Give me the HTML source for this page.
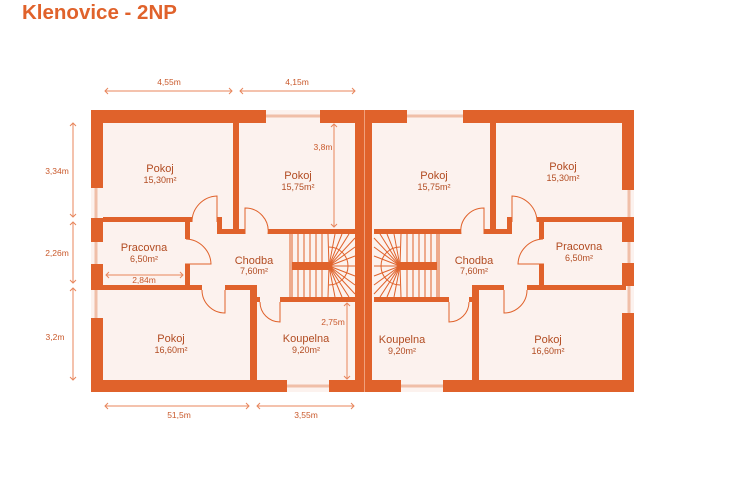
<!DOCTYPE html>
<html><head><meta charset="utf-8"><style>
body{margin:0;background:#fff;width:740px;height:493px;overflow:hidden}
svg{display:block}
text{font-family:"Liberation Sans",sans-serif}
.n{font-size:11px;fill:#b24c22;text-anchor:middle}
.a{font-size:9px;fill:#b24c22;text-anchor:middle}
.d{font-size:8.5px;fill:#c9592b;text-anchor:middle}
</style></head><body>
<svg width="740" height="493" viewBox="0 0 740 493">
<defs>
<g id="stairs" stroke="#e0622b" stroke-width="1" fill="none">
 <line x1="292" y1="234" x2="292" y2="297"/><line x1="298" y1="234" x2="298" y2="297"/>
 <line x1="304" y1="234" x2="304" y2="297"/><line x1="310" y1="234" x2="310" y2="297"/>
 <line x1="316" y1="234" x2="316" y2="297"/><line x1="322" y1="234" x2="322" y2="297"/>
 <path d="M329 247 A19 19 0 0 1 329 285"/>
 <line x1="329" y1="266" x2="328" y2="234"/><line x1="329" y1="266" x2="335" y2="234"/>
 <line x1="329" y1="266" x2="342" y2="234"/><line x1="329" y1="266" x2="349" y2="234"/>
 <line x1="329" y1="266" x2="355" y2="238"/><line x1="329" y1="266" x2="355" y2="247"/>
 <line x1="329" y1="266" x2="355" y2="256"/><line x1="329" y1="266" x2="355" y2="266"/>
 <line x1="329" y1="266" x2="355" y2="276"/><line x1="329" y1="266" x2="355" y2="285"/>
 <line x1="329" y1="266" x2="355" y2="294"/><line x1="329" y1="266" x2="349" y2="297"/>
 <line x1="329" y1="266" x2="342" y2="297"/><line x1="329" y1="266" x2="335" y2="297"/>
 <line x1="329" y1="266" x2="328" y2="297"/>
 <rect x="292" y="262" width="37" height="8" fill="#e0622b" stroke="none"/>
</g>
<g id="inner">
 <g fill="#e0622b">
  <rect x="103" y="217" width="89" height="5"/>
  <rect x="217" y="217" width="5" height="17"/>
  <rect x="217" y="229" width="22" height="5"/>
  <rect x="233" y="123" width="6" height="111"/>
  <rect x="239" y="229" width="6" height="5"/>
  <rect x="268" y="229" width="87" height="5"/>
  <rect x="185" y="217" width="5" height="22"/>
  <rect x="185" y="264" width="5" height="26"/>
  <rect x="103" y="285" width="99" height="5"/>
  <rect x="225" y="285" width="32" height="5"/>
  <rect x="250" y="285" width="7" height="107"/>
  <rect x="256" y="297" width="4" height="5"/>
  <rect x="280" y="297" width="75" height="5"/>
 </g>
 <g stroke="#e0622b" stroke-width="1" fill="none">
  <path d="M217 222 L217 196 A26 26 0 0 0 192 222"/>
  <path d="M185 264 L211 264 A26 26 0 0 0 186 239"/>
  <path d="M225 290 L225 313 A23 23 0 0 1 202 290"/>
  <path d="M245 234 L245 208 A23 23 0 0 1 268 234"/>
  <path d="M280 302 L280 322 A20 20 0 0 1 260 302"/>
  <line x1="290" y1="234" x2="290" y2="297"/>
 </g>
 <use href="#stairs"/>
</g>
</defs>
<text x="22" y="19" style="font-size:20.5px;font-weight:bold;fill:#e0622b">Klenovice - 2NP</text>
<rect x="91" y="110" width="543" height="282" fill="#fcf2ee"/>
<g stroke="#f0bfa8" stroke-width="3">
 <line x1="266" y1="116" x2="320" y2="116"/><line x1="407" y1="116" x2="463" y2="116"/>
 <line x1="287" y1="386" x2="329" y2="386"/><line x1="401" y1="386" x2="443" y2="386"/>
 <line x1="96" y1="188" x2="96" y2="218"/><line x1="96" y1="242" x2="96" y2="264"/><line x1="96" y1="290" x2="96" y2="318"/>
 <line x1="629" y1="190" x2="629" y2="217"/><line x1="629" y1="242" x2="629" y2="263"/><line x1="629" y1="286" x2="629" y2="313"/>
</g>
<g fill="#e0622b">
 <rect x="91" y="110" width="175" height="13"/><rect x="320" y="110" width="87" height="13"/><rect x="463" y="110" width="171" height="13"/>
 <rect x="91" y="380" width="196" height="12"/><rect x="329" y="380" width="72" height="12"/><rect x="443" y="380" width="191" height="12"/>
 <rect x="91" y="110" width="12" height="78"/><rect x="91" y="218" width="12" height="24"/><rect x="91" y="264" width="12" height="26"/><rect x="91" y="318" width="12" height="74"/>
 <rect x="622" y="110" width="12" height="80"/><rect x="622" y="217" width="12" height="25"/><rect x="622" y="263" width="12" height="23"/><rect x="622" y="313" width="12" height="79"/>
 <rect x="355" y="110" width="17" height="282"/>
</g>
<rect x="364" y="110" width="1" height="282" fill="#f0a07c"/>
<use href="#inner"/>
<g transform="translate(729,0) scale(-1,1)"><use href="#inner"/></g>
<g stroke="#e8855b" stroke-width="1" fill="none">
 <line x1="105" y1="91" x2="232" y2="91"/><path d="M108 88 L105 91 L108 94 M229 88 L232 91 L229 94"/>
 <line x1="240" y1="91" x2="355" y2="91"/><path d="M243 88 L240 91 L243 94 M352 88 L355 91 L352 94"/>
 <line x1="73" y1="123" x2="73" y2="217"/><path d="M70 126 L73 123 L76 126 M70 214 L73 217 L76 214"/>
 <line x1="73" y1="222" x2="73" y2="283"/><path d="M70 225 L73 222 L76 225 M70 280 L73 283 L76 280"/>
 <line x1="73" y1="288" x2="73" y2="380"/><path d="M70 291 L73 288 L76 291 M70 377 L73 380 L76 377"/>
 <line x1="334" y1="124" x2="334" y2="227"/><path d="M331 127 L334 124 L337 127 M331 224 L334 227 L337 224"/>
 <line x1="106" y1="275" x2="183" y2="275"/><path d="M109 272 L106 275 L109 278 M180 272 L183 275 L180 278"/>
 <line x1="347" y1="303" x2="347" y2="379"/><path d="M344 306 L347 303 L350 306 M344 376 L347 379 L350 376"/>
 <line x1="105" y1="406" x2="249" y2="406"/><path d="M108 403 L105 406 L108 409 M246 403 L249 406 L246 409"/>
 <line x1="257" y1="406" x2="354" y2="406"/><path d="M260 403 L257 406 L260 409 M351 403 L354 406 L351 409"/>
</g>
<text class="d" x="169" y="85">4,55m</text>
<text class="d" x="297" y="85">4,15m</text>
<text class="d" x="57" y="174">3,34m</text>
<text class="d" x="57" y="256">2,26m</text>
<text class="d" x="55" y="340">3,2m</text>
<text class="d" x="323" y="150">3,8m</text>
<text class="d" x="144" y="283">2,84m</text>
<text class="d" x="333" y="325">2,75m</text>
<text class="d" x="179" y="418">51,5m</text>
<text class="d" x="306" y="418">3,55m</text>
<text class="n" x="160" y="172">Pokoj</text><text class="a" x="160" y="183">15,30m²</text>
<text class="n" x="298" y="179">Pokoj</text><text class="a" x="298" y="190">15,75m²</text>
<text class="n" x="144" y="251">Pracovna</text><text class="a" x="144" y="262">6,50m²</text>
<text class="n" x="254" y="264">Chodba</text><text class="a" x="254" y="274">7,60m²</text>
<text class="n" x="171" y="342">Pokoj</text><text class="a" x="171" y="353">16,60m²</text>
<text class="n" x="306" y="342">Koupelna</text><text class="a" x="306" y="353">9,20m²</text>
<text class="n" x="434" y="179">Pokoj</text><text class="a" x="434" y="190">15,75m²</text>
<text class="n" x="563" y="170">Pokoj</text><text class="a" x="563" y="181">15,30m²</text>
<text class="n" x="579" y="250">Pracovna</text><text class="a" x="579" y="261">6,50m²</text>
<text class="n" x="474" y="264">Chodba</text><text class="a" x="474" y="274">7,60m²</text>
<text class="n" x="402" y="343">Koupelna</text><text class="a" x="402" y="354">9,20m²</text>
<text class="n" x="548" y="343">Pokoj</text><text class="a" x="548" y="354">16,60m²</text>
</svg>
</body></html>
